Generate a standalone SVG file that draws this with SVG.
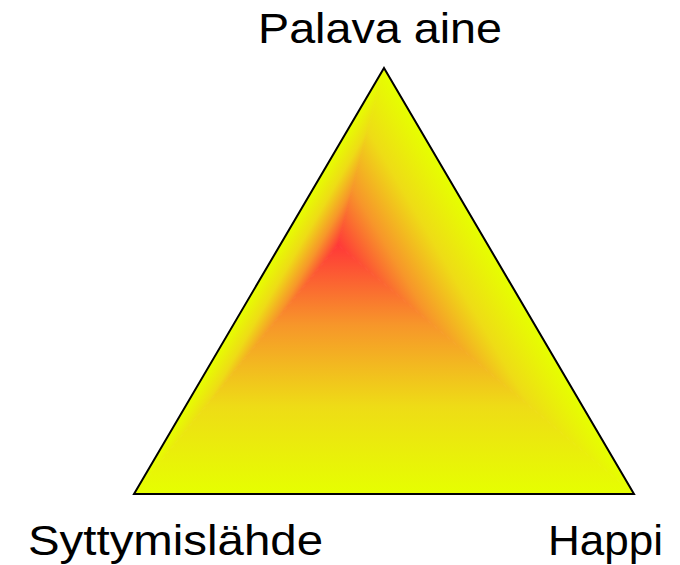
<svg xmlns="http://www.w3.org/2000/svg" width="680" height="565" viewBox="0 0 680 565">
  <style>
    .lbl { font-family: "Liberation Sans", Arial, sans-serif; font-size: 43px; fill: #000; }
    .s0 { stop-color: #e6ff00; }
    .s1 { stop-color: #eedc16; }
    .s2 { stop-color: #f7962a; }
    .s3 { stop-color: #ff3838; }
  </style>
  <defs>
    <linearGradient id="gBottom" gradientUnits="userSpaceOnUse" x1="338" y1="494" x2="338" y2="245">
      <stop offset="0" class="s0"/>
      <stop offset="0.35" class="s1"/>
      <stop offset="0.68" class="s2"/>
      <stop offset="1" class="s3"/>
    </linearGradient>
    <linearGradient id="gLeft" gradientUnits="userSpaceOnUse" x1="295" y1="219.8" x2="338" y2="245">
      <stop offset="0" class="s0"/>
      <stop offset="0.35" class="s1"/>
      <stop offset="0.68" class="s2"/>
      <stop offset="1" class="s3"/>
    </linearGradient>
    <linearGradient id="gRight" gradientUnits="userSpaceOnUse" x1="449.2" y1="179.7" x2="338" y2="245">
      <stop offset="0" class="s0"/>
      <stop offset="0.35" class="s1"/>
      <stop offset="0.68" class="s2"/>
      <stop offset="1" class="s3"/>
    </linearGradient>
  </defs>
  <g id="triangle">
    <polygon points="384,68 134,494 338,245" fill="url(#gLeft)" stroke="url(#gLeft)" stroke-width="1"/>
    <polygon points="384,68 634,494 338,245" fill="url(#gRight)" stroke="url(#gRight)" stroke-width="1"/>
    <polygon points="134,494 634,494 338,245" fill="url(#gBottom)" stroke="url(#gBottom)" stroke-width="1"/>
    <polygon points="384,68 634,494 134,494" fill="none" stroke="#000" stroke-width="2" stroke-linejoin="miter"/>
  </g>
  <g id="label-top">
    <text class="lbl" x="258" y="43" textLength="244" lengthAdjust="spacingAndGlyphs">Palava aine</text>
  </g>
  <g id="label-left">
    <text class="lbl" x="28" y="555" textLength="295" lengthAdjust="spacingAndGlyphs">Syttymislähde</text>
  </g>
  <g id="label-right">
    <text class="lbl" x="548" y="555" textLength="115" lengthAdjust="spacingAndGlyphs">Happi</text>
  </g>
</svg>
